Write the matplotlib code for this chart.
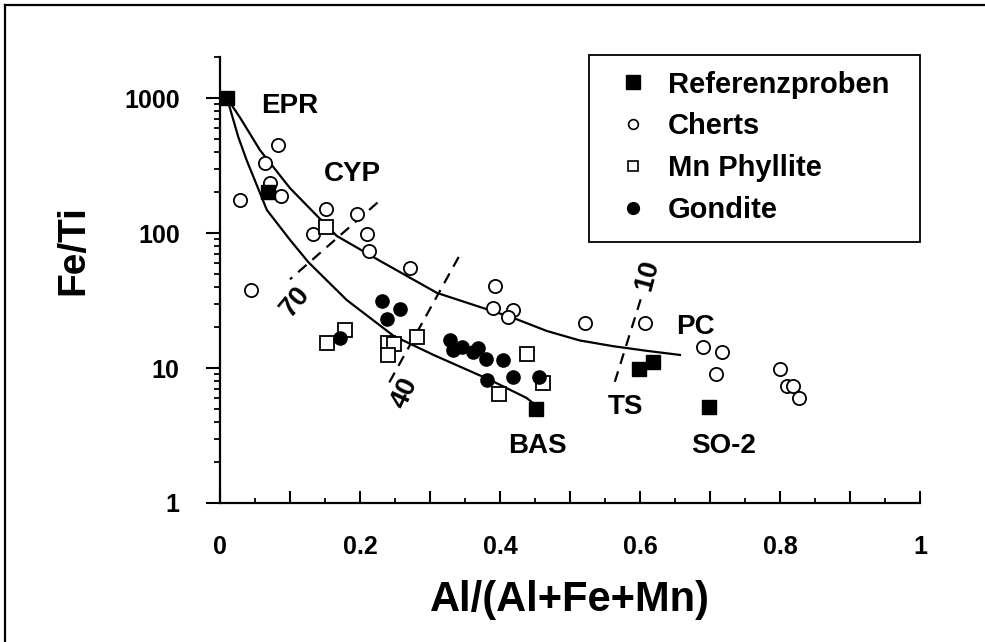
import matplotlib
matplotlib.use('Agg')
import matplotlib.pyplot as plt
from matplotlib.lines import Line2D
from matplotlib.patches import Rectangle
from matplotlib.ticker import FixedLocator, FuncFormatter, NullFormatter

plt.rcParams['font.family'] = ['Liberation Sans', 'DejaVu Sans']
plt.rcParams['font.weight'] = 'bold'

# Referenzproben (EPR, CYP, BAS, TS, TS, SO-2)
ref_x = [0.010, 0.069, 0.451, 0.598, 0.619, 0.698]
ref_y = [1000, 200, 5.0, 9.9, 11.1, 5.1]

# Cherts
chert_x = [0.083, 0.064, 0.071, 0.087, 0.029, 0.151, 0.195, 0.133, 0.210,
           0.213, 0.271, 0.044, 0.393, 0.390, 0.419, 0.412, 0.521, 0.607,
           0.690, 0.717, 0.709, 0.800, 0.810, 0.818, 0.827]
chert_y = [449, 328, 233, 188, 176, 150, 138, 99, 99,
           74, 55, 38, 40.5, 27.7, 26.9, 24, 21.4, 21.4,
           14.2, 13.2, 9.0, 9.8, 7.4, 7.4, 6.0]

# Mn Phyllite
phyl_x = [0.152, 0.179, 0.153, 0.240, 0.248, 0.240, 0.281, 0.438, 0.462, 0.398]
phyl_y = [111, 19.1, 15.2, 15.3, 15.0, 12.5, 17.1, 12.7, 7.7, 6.4]

# Gondite
gond_x = [0.231, 0.257, 0.238, 0.172, 0.328, 0.333, 0.345, 0.362, 0.369,
          0.380, 0.404, 0.382, 0.418, 0.455]
gond_y = [31.5, 27.5, 23, 16.6, 16.1, 13.6, 14.4, 13.2, 14.0,
          11.7, 11.5, 8.15, 8.6, 8.6]

# mixing curves EPR -> PC and EPR -> BAS
upper_x = [0.010, 0.029, 0.057, 0.100, 0.147, 0.167, 0.229, 0.310, 0.419,
           0.467, 0.514, 0.562, 0.610, 0.657]
upper_y = [1000, 711, 412, 215, 121, 95, 62, 36, 23.5,
           18.8, 16.0, 14.5, 13.4, 12.5]
lower_x = [0.010, 0.026, 0.038, 0.067, 0.100, 0.126, 0.181, 0.248, 0.305,
           0.386, 0.438, 0.451]
lower_y = [1000, 517, 347, 148, 89, 61, 31.9, 17.3, 12.5, 8.15, 6.0, 5.3]

# dashed isolines (percent labels)
iso_labels = ['70', '40', '10']
iso_x = [[0.225, 0.100], [0.341, 0.238], [0.601, 0.564]]
iso_y = [[168, 45.4], [66.5, 7.2], [32.3, 7.9]]

fig = plt.figure(figsize=(9.85, 6.42), dpi=100)
ax = fig.add_axes([220 / 985, 139 / 642, 700 / 985, 445.6 / 642])

ax.plot(upper_x, upper_y, color='black', lw=1.6)
ax.plot(lower_x, lower_y, color='black', lw=1.6)
for xs, ys in zip(iso_x, iso_y):
    ax.plot(xs, ys, color='black', lw=1.6, linestyle=(0, (5, 3.5)))

ax.plot(chert_x, chert_y, 'o', ms=9.5, mfc='white', mec='black', mew=1.3,
        linestyle='none')
ax.plot(phyl_x, phyl_y, 's', ms=9.5, mfc='white', mec='black', mew=1.3,
        linestyle='none')
ax.plot(gond_x, gond_y, 'o', ms=9.5, color='black', linestyle='none')
ax.plot(ref_x, ref_y, 's', ms=10.5, color='black', linestyle='none')

# annotations
ann = dict(fontsize=20, fontweight='bold', ha='center', va='center')
ax.text(0.099, 873, 'EPR', **ann)
ax.text(0.189, 274, 'CYP', **ann)
ax.text(0.679, 20.1, 'PC', **ann)
ax.text(0.579, 5.14, 'TS', **ann)
ax.text(0.720, 2.64, 'SO-2', **ann)
ax.text(0.453, 2.64, 'BAS', **ann)
ax.text(0.107, 30.8, iso_labels[0], rotation=50, **ann)
ax.text(0.264, 6.5, iso_labels[1], rotation=65, **ann)
ax.text(0.610, 48.9, iso_labels[2], rotation=75, **ann)

# axes
ax.set_yscale('log')
ax.set_xlim(0, 1)
ax.set_ylim(1, 2000)
ax.spines['top'].set_visible(False)
ax.spines['right'].set_visible(False)
ax.spines['left'].set_linewidth(1.6)
ax.spines['bottom'].set_linewidth(1.6)

ax.yaxis.set_major_locator(FixedLocator([1, 10, 100, 1000]))
ax.yaxis.set_minor_locator(FixedLocator(
    [m * 10 ** e for e in range(0, 4) for m in range(2, 10)
     if m * 10 ** e <= 2000]))
ax.yaxis.set_major_formatter(FuncFormatter(lambda v, p: '%d' % v))
ax.yaxis.set_minor_formatter(NullFormatter())
ax.tick_params(axis='y', which='major', direction='out', length=10,
               width=1.5, pad=19, labelsize=18)
ax.tick_params(axis='y', which='minor', direction='out', length=4, width=1.3)

ax.xaxis.set_major_locator(FixedLocator([i / 10 for i in range(11)]))
ax.xaxis.set_minor_locator(FixedLocator([i / 10 + 0.05 for i in range(10)]))


def xfmt(v, pos):
    k = int(round(v * 10))
    if k % 2:
        return ''
    if k == 0:
        return '0'
    if k == 10:
        return '1'
    return '%.1f' % v


ax.xaxis.set_major_formatter(FuncFormatter(xfmt))
ax.tick_params(axis='x', which='major', direction='in', length=8.5,
               width=1.5, pad=23, labelsize=18)
ax.tick_params(axis='x', which='minor', direction='in', length=3.5, width=1.3)

ax.text(-0.209, 0.568, 'Fe/Ti', transform=ax.transAxes, rotation=90,
        ha='center', va='center', fontsize=28, fontweight='bold')
ax.text(0.5, -0.218, 'Al/(Al+Fe+Mn)', transform=ax.transAxes,
        ha='center', va='center', fontsize=30, fontweight='bold')

# legend
handles = [
    Line2D([], [], marker='s', ms=9.5, color='black', linestyle='none'),
    Line2D([], [], marker='o', ms=7, mfc='white', mec='black', mew=1.2,
           linestyle='none'),
    Line2D([], [], marker='s', ms=7, mfc='white', mec='black', mew=1.2,
           linestyle='none'),
    Line2D([], [], marker='o', ms=8.5, color='black', linestyle='none'),
]
labels = ['Referenzproben', 'Cherts', 'Mn Phyllite', 'Gondite']
leg = ax.legend(handles, labels, loc='upper left',
                bbox_to_anchor=(0.5486, 1.003), frameon=False,
                prop={'size': 21, 'weight': 'bold'}, handlelength=1.0,
                handletextpad=0.69, labelspacing=0.47, borderpad=0.5,
                borderaxespad=0)
ax.add_patch(Rectangle((0.527, 0.586), 0.473, 0.419, transform=ax.transAxes,
                       fill=False, edgecolor='black', lw=1.3, clip_on=False))

# figure frame (left and top edges)
fig.add_artist(Line2D([5 / 985, 5 / 985], [0, 1 - 5 / 642], color='black',
                      lw=1.6, transform=fig.transFigure))
fig.add_artist(Line2D([5 / 985, 1], [1 - 5 / 642, 1 - 5 / 642],
                      color='black', lw=1.6, transform=fig.transFigure))

fig.savefig('out.png', dpi=100)
